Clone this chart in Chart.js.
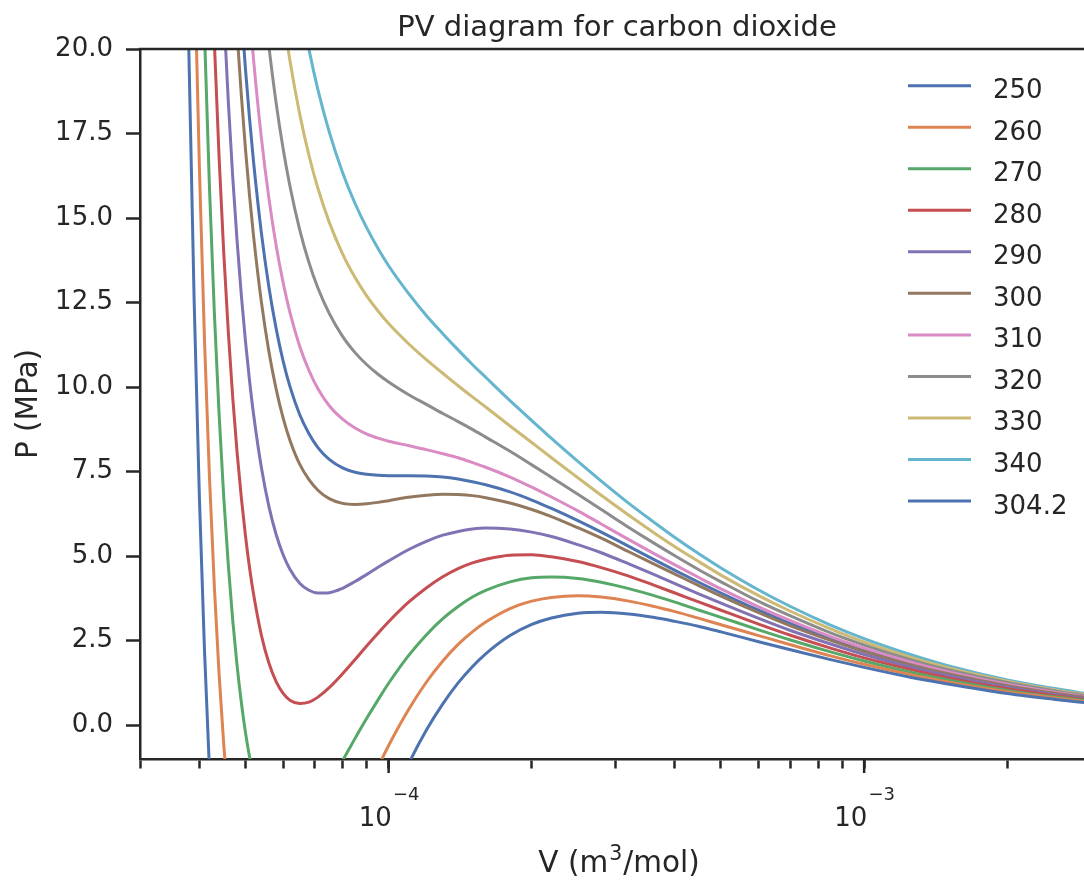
<!DOCTYPE html>
<html>
<head>
<meta charset="utf-8">
<title>PV diagram for carbon dioxide</title>
<script src="https://cdn.jsdelivr.net/npm/chart.js@4.4.0/dist/chart.umd.min.js"></script>
<style>
  html, body { margin: 0; padding: 0; background: #fff; }
</style>
</head>
<body>
<canvas id="grafico" width="1084" height="882"></canvas>
<script>
// volumes molares (m3/mol) onde as isotermas foram lidas
const volumes = [3.7e-5, 3.8e-5, 3.9e-5, 4.0e-5, 4.1e-5, 4.2e-5, 4.3e-5, 4.4e-5, 4.5e-5, 4.6e-5, 4.7e-5,
  4.8e-5, 4.9e-5, 5.0e-5, 5.1e-5, 5.2e-5, 5.4e-5, 5.6e-5, 5.8e-5, 6.0e-5, 6.2e-5, 6.5e-5,
  6.8e-5, 7.1e-5, 7.5e-5, 8.0e-5, 8.5e-5, 9.0e-5, 9.5e-5, 1.0e-4, 1.1e-4, 1.2e-4, 1.3e-4,
  1.4e-4, 1.5e-4, 1.6e-4, 1.8e-4, 2.0e-4, 2.2e-4, 2.5e-4, 2.8e-4, 3.2e-4, 3.6e-4, 4.0e-4,
  4.5e-4, 5.0e-4, 6.0e-4, 7.0e-4, 8.5e-4, 1.0e-3, 1.25e-3, 1.5e-3, 2.0e-3, 2.5e-3, 3.0e-3]

// pressao (MPa) de cada isoterma, null onde a curva sai do grafico
const p250 = [29.74, 19.99, 12.51, 6.72, 2.20, -1.33, -4.10,
  null, null, null, null, null, null, null, null, null, null, null,
  null, null, null, null, null, null, null, null, null, null, null,
  -2.46, -1.16, -0.15, 0.63, 1.25, 1.73, 2.11, 2.65, 2.98, 3.17, 3.31, 3.34, 3.29,
  3.19, 3.07, 2.92, 2.76, 2.47, 2.23, 1.94, 1.71, 1.42, 1.22, 0.94, 0.77, 0.65]
const p260 = [null, null, 22.94, 16.48, 11.38, 7.33, 4.10, 1.51, -0.57, -2.23,
  null, null, null, null, null, null, null, null, null,
  null, null, null, null, null, null, null, null,
  -1.95, -1.24, -0.60, 0.45, 1.27, 1.90, 2.39, 2.76, 3.05, 3.45, 3.67, 3.78, 3.83, 3.79,
  3.67, 3.52, 3.36, 3.16, 2.97, 2.65, 2.38, 2.05, 1.80, 1.50, 1.28, 0.99, 0.81, 0.68]
const p270 = [null, null, null, 26.13, 20.46, 15.89, 12.20, 9.20, 6.75, 4.75, 3.11, 1.77,
  0.68, -0.22, -0.94, -1.52,
  null, null, null, null, null, null, null, null,
  -1.74, -1.05, -0.39, 0.21, 0.75, 1.24, 2.05, 2.67, 3.15, 3.51, 3.79, 3.99, 4.24, 4.36,
  4.38, 4.34, 4.23, 4.04, 3.84, 3.64, 3.40, 3.19, 2.82, 2.52, 2.17, 1.90, 1.57, 1.34,
  1.03, 0.84, 0.71]
const p280 = [null, null, null, null, null,
  24.36, 20.21, 16.80, 13.98, 11.65, 9.70, 8.08, 6.73, 5.60, 4.65, 3.87, 2.66, 1.84, 1.29,
  0.94, 0.74, 0.64, 0.68, 0.83, 1.11, 1.52, 1.94, 2.35, 2.72, 3.06, 3.63, 4.06, 4.39, 4.63,
  4.80, 4.91, 5.03, 5.04, 4.98, 4.84, 4.66, 4.41, 4.15, 3.91, 3.64, 3.40, 2.99, 2.66, 2.28,
  1.99, 1.65, 1.40, 1.08, 0.88, 0.74]
const p290 = [null, null, null, null, null, null, null, null,
  21.14, 18.47, 16.22, 14.33, 12.72, 11.35, 10.18, 9.19, 7.62, 6.47, 5.64, 5.04, 4.61, 4.20,
  3.99, 3.91, 3.92, 4.05, 4.25, 4.46, 4.67, 4.86, 5.19, 5.44, 5.62, 5.73, 5.80, 5.83, 5.80,
  5.71, 5.58, 5.34, 5.10, 4.77, 4.47, 4.19, 3.88, 3.61, 3.16, 2.80, 2.40, 2.09, 1.72, 1.46,
  1.12, 0.91, 0.77]
const p300 = [null, null, null, null, null, null, null, null, null, null, null,
  20.50, 18.64, 17.03, 15.65, 14.46, 12.52, 11.05, 9.94, 9.08, 8.43, 7.72, 7.26, 6.95, 6.70,
  6.56, 6.53, 6.55, 6.59, 6.64, 6.74, 6.80, 6.83, 6.82, 6.79, 6.73, 6.57, 6.38, 6.17, 5.84,
  5.53, 5.13, 4.78, 4.47, 4.12, 3.82, 3.33, 2.94, 2.51, 2.18, 1.79, 1.52, 1.17, 0.95, 0.80]
const p304 = [null, null, null, null, null, null, null, null, null, null, null, null,
  21.10, 19.40, 17.93, 16.65, 14.56, 12.96, 11.73, 10.77, 10.02, 9.19, 8.62, 8.21, 7.86,
  7.61, 7.48, 7.42, 7.39, 7.38, 7.38, 7.37, 7.34, 7.28, 7.20, 7.11, 6.90, 6.66, 6.41, 6.05,
  5.71, 5.29, 4.91, 4.58, 4.22, 3.91, 3.40, 3.00, 2.56, 2.22, 1.82, 1.55, 1.19, 0.96, 0.81]
const p310 = [null, null, null, null, null, null, null, null, null, null, null, null, null, null,
  21.06, 19.67, 17.37, 15.59, 14.19, 13.09, 12.21, 11.21, 10.49, 9.95, 9.45, 9.05, 8.79,
  8.61, 8.49, 8.40, 8.27, 8.15, 8.03, 7.91, 7.77, 7.63, 7.34, 7.04, 6.75, 6.34, 5.95, 5.49,
  5.09, 4.74, 4.36, 4.03, 3.50, 3.09, 2.62, 2.28, 1.87, 1.58, 1.21, 0.98, 0.82]
const p320 = [null, null, null, null, null, null, null, null, null, null, null, null, null, null,
  null, null,
  22.17, 20.08, 18.40, 17.05, 15.95, 14.66, 13.68, 12.93, 12.18, 11.50, 11.02, 10.66, 10.38,
  10.15, 9.78, 9.49, 9.22, 8.98, 8.75, 8.52, 8.10, 7.70, 7.33, 6.83, 6.38, 5.85, 5.40, 5.01,
  4.59, 4.24, 3.66, 3.23, 2.73, 2.37, 1.94, 1.64, 1.26, 1.02, 0.85]
const p330 = [null, null, null, null, null, null, null, null, null, null, null, null, null, null,
  null, null, null, null, null,
  20.98, 19.66, 18.08, 16.85, 15.88, 14.88, 13.94, 13.24, 12.69, 12.25, 11.88, 11.29, 10.81,
  10.41, 10.04, 9.71, 9.41, 8.85, 8.36, 7.91, 7.32, 6.80, 6.21, 5.71, 5.28, 4.83, 4.44, 3.83,
  3.37, 2.85, 2.46, 2.01, 1.70, 1.30, 1.05, 0.88]
const p340 = [null, null, null, null, null, null, null, null, null, null, null, null, null, null,
  null, null, null, null, null, null, null,
  21.46, 19.99, 18.80, 17.55, 16.35, 15.43, 14.70, 14.10, 13.59, 12.78, 12.12, 11.58, 11.10,
  10.67, 10.29, 9.60, 9.01, 8.48, 7.80, 7.22, 6.56, 6.02, 5.55, 5.06, 4.65, 4.00, 3.51, 2.96,
  2.56, 2.09, 1.76, 1.34, 1.09, 0.91]

const temperaturas = ['250', '260', '270', '280', '290', '300', '310', '320', '330', '340', '304.2']
const pressoes = [p250, p260, p270, p280, p290, p300, p310, p320, p330, p340, p304]
const cores = ['#4C72B0', '#DD8452', '#55A868', '#C44E52', '#8172B3', '#937860',
  '#DA8BC3', '#8C8C8C', '#CCB974', '#64B5CD', '#4C72B0']

const marcasX = [3e-5, 4e-5, 5e-5, 6e-5, 7e-5, 8e-5, 9e-5, 1e-4, 2e-4, 3e-4, 4e-4,
  5e-4, 6e-4, 7e-4, 8e-4, 9e-4, 1e-3, 2e-3]
const marcasMaiores = [1e-4, 1e-3]
const expoentes = ['\u22124', '\u22123']
const marcasY = [0, 2.5, 5, 7.5, 10, 12.5, 15, 17.5, 20]

const tinta = '#262626'
const fonte = '"DejaVu Sans", sans-serif'

// titulo, legenda, rotulos 10^n e spine de cima
const enfeites = {
  id: 'enfeites',
  afterDraw(chart) {
    const ctx = chart.ctx
    const area = chart.chartArea
    const escalaX = chart.scales.x
    ctx.save()
    ctx.strokeStyle = tinta
    ctx.fillStyle = tinta
    ctx.lineWidth = 2.5
    ctx.beginPath()
    ctx.moveTo(area.left - 1.25, area.top)
    ctx.lineTo(area.right, area.top)
    ctx.stroke()

    ctx.textAlign = 'left'
    ctx.textBaseline = 'alphabetic'
    marcasMaiores.forEach((v, i) => {
      const x = escalaX.getPixelForValue(v)
      ctx.beginPath()
      ctx.moveTo(x, area.bottom)
      ctx.lineTo(x, area.bottom + 14)
      ctx.stroke()
      ctx.font = `26px ${fonte}`
      const w1 = ctx.measureText('10').width
      ctx.font = `18px ${fonte}`
      const w2 = ctx.measureText(expoentes[i]).width
      const x0 = x - (w1 + w2) / 2
      ctx.font = `26px ${fonte}`
      ctx.fillText('10', x0, area.bottom + 67)
      ctx.font = `18px ${fonte}`
      ctx.fillText(expoentes[i], x0 + w1 + 1, area.bottom + 41)
    })

    // rotulo do eixo x com expoente
    const partes = ['V (m', '3', '/mol)']
    ctx.font = `29.5px ${fonte}`
    const a = ctx.measureText(partes[0]).width
    const c = ctx.measureText(partes[2]).width
    ctx.font = `20.5px ${fonte}`
    const b = ctx.measureText(partes[1]).width
    let xx = 618 - (a + b + c) / 2
    ctx.font = `29.5px ${fonte}`
    ctx.fillText(partes[0], xx, area.bottom + 113)
    xx += a
    ctx.font = `20.5px ${fonte}`
    ctx.fillText(partes[1], xx + 1, area.bottom + 101)
    xx += b + 2
    ctx.font = `29.5px ${fonte}`
    ctx.fillText(partes[2], xx, area.bottom + 113)

    // titulo
    ctx.textAlign = 'center'
    ctx.font = `29px ${fonte}`
    ctx.fillText('PV diagram for carbon dioxide', 617, 35.5)

    // legenda
    ctx.textAlign = 'left'
    ctx.font = `26px ${fonte}`
    chart.data.datasets.forEach((ds, i) => {
      const y = 85.7 + i * 41.53
      ctx.strokeStyle = ds.borderColor
      ctx.lineWidth = 3
      ctx.beginPath()
      ctx.moveTo(908, y)
      ctx.lineTo(971, y)
      ctx.stroke()
      ctx.fillStyle = tinta
      ctx.fillText(ds.label, 993, y + 12.5)
    })
    ctx.restore()
  }
}

const gerarGrafico = () => {
  const ctx = document.getElementById('grafico')
  const datasets = pressoes.map((p, i) => ({
    label: temperaturas[i],
    data: volumes.map((v, k) => ({x: v, y: p[k]})),
    borderColor: cores[i],
    borderWidth: 3,
    pointRadius: 0,
    fill: false,
    spanGaps: false,
    cubicInterpolationMode: 'monotone',
    clip: 0
  }))
  new Chart(ctx, {
    type: 'line',
    data: { datasets },
    plugins: [enfeites],
    options: {
      responsive: false,
      devicePixelRatio: 1,
      animation: false,
      events: [],
      layout: { padding: { top: 49, left: 0, right: 0, bottom: 0 } },
      plugins: {
        legend: { display: false },
        title: { display: false },
        tooltip: { enabled: false }
      },
      scales: {
        x: {
          type: 'logarithmic',
          min: 3e-5,
          max: 2.9e-3,
          afterBuildTicks: s => { s.ticks = marcasX.map(v => ({value: v})) },
          afterFit: s => { s.height = 123 },
          ticks: { callback: () => '', autoSkip: false, maxRotation: 0 },
          grid: { drawOnChartArea: false, tickLength: 9.5, tickWidth: 2.5, tickColor: tinta, color: tinta },
          border: { display: true, color: tinta, width: 2.5 }
        },
        y: {
          type: 'linear',
          min: -1,
          max: 20,
          afterBuildTicks: s => { s.ticks = marcasY.map(v => ({value: v})) },
          afterFit: s => { s.width = 140 },
          ticks: {
            callback: v => v.toFixed(1),
            color: tinta,
            font: { family: 'DejaVu Sans', size: 26 },
            padding: 13
          },
          grid: { drawOnChartArea: false, tickLength: 14, tickWidth: 2.5, tickColor: tinta, color: tinta },
          border: { display: true, color: tinta, width: 2.5 },
          title: {
            display: true,
            text: 'P (MPa)',
            color: tinta,
            font: { family: 'DejaVu Sans', size: 29.5 },
            padding: { top: 12, bottom: 0 }
          }
        }
      }
    }
  })
}

gerarGrafico()
</script>
</body>
</html>
